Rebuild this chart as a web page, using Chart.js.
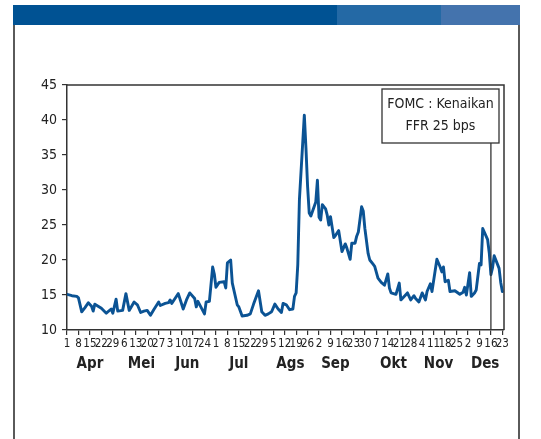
<!DOCTYPE html>
<html>
<head>
<meta charset="utf-8">
<script src="https://cdn.jsdelivr.net/npm/chart.js@4.4.1/dist/chart.umd.min.js"></script>
<style>
  html, body { margin: 0; padding: 0; background: #fff; width: 541px; height: 439px; overflow: hidden; }
  #frame { position: absolute; left: 13px; top: 25px; width: 503px; height: 420px;
           border-left: 2px solid #5a5a5a; border-right: 2px solid #5a5a5a; }
  .bar { position: absolute; top: 5px; height: 20px; }
  #b1 { left: 13px; width: 324px; background: #005293; }
  #b2 { left: 337px; width: 104px; background: #2469a5; }
  #b3 { left: 441px; width: 79px; background: #4473ad; }
  #c { position: absolute; left: 0; top: 0; }
</style>
</head>
<body>
<div id="frame"></div>
<div class="bar" id="b1"></div>
<div class="bar" id="b2"></div>
<div class="bar" id="b3"></div>
<canvas id="c" width="541" height="439"></canvas>
<script>
// Days since 1 April (2015) and index values
const days = [0,3,6,7,9,11,13,15,16,17,19,21,24,27,28,30,31,34,36,38,41,43,45,47,49,51,53,56,57,60,62,63,64,66,68,71,73,75,78,79,80,84,85,87,89,90,91,93,96,97,98,100,101,104,105,107,110,112,114,117,119,121,123,125,127,129,131,132,134,136,138,139,140,141,142,145,146,147,148,149,152,153,154,155,156,158,159,160,161,163,164,166,168,170,171,173,174,176,177,178,179,180,181,182,184,185,187,188,190,192,194,196,197,198,201,203,204,206,208,210,212,213,215,217,219,220,222,223,226,228,229,230,231,233,234,237,240,242,243,244,246,247,249,250,252,253,254,257,258,259,260,261,264,265,266];
const values = [15.1,14.9,14.8,14.6,12.6,13.2,13.9,13.4,12.7,13.7,13.4,13.1,12.4,13.0,12.4,14.4,12.7,12.8,15.2,12.8,14.0,13.6,12.5,12.7,12.8,12.1,12.9,14.0,13.5,13.8,13.9,14.3,13.8,14.5,15.2,13.0,14.3,15.3,14.5,13.3,14.1,12.3,14.0,14.1,19.0,18.0,16.1,16.8,16.9,16.0,19.6,20.0,16.7,13.6,13.3,12.0,12.1,12.3,13.7,15.6,12.6,12.1,12.3,12.6,13.7,13.0,12.5,13.8,13.6,12.9,13.0,14.8,15.3,19.3,28.6,40.7,36.0,30.5,26.7,26.3,28.3,31.4,26.1,25.7,27.9,27.3,26.4,25.0,26.2,23.2,23.5,24.2,21.2,22.3,21.7,20.1,22.4,22.4,23.4,24.0,25.8,27.6,27.0,24.5,20.9,20.0,19.4,19.1,17.4,16.8,16.4,18.0,16.0,15.3,15.1,16.7,14.3,14.8,15.3,14.3,14.9,14.5,14.0,15.3,14.3,15.5,16.6,15.5,20.1,19.0,18.3,19.0,16.9,17.1,15.5,15.6,15.1,15.4,16.1,15.0,18.2,14.8,15.3,15.7,19.5,19.3,24.5,22.9,21.0,17.9,18.9,20.6,18.8,16.8,15.5];
// Weekly tick positions (days since 1 April) and their labels
const tickDays = [0,7,14,21,28,35,42,49,56,63,70,77,84,91,98,105,112,119,126,133,140,147,154,161,168,175,182,189,196,203,210,217,224,231,238,245,252,259,266];
const tickLabels = ["1","8","15","22","29","6","13","20","27","3","10","17","24","1","8","15","22","29","5","12","19","26","2","9","16","23","30","7","14","21","28","4","11","18","25","2","9","16","23"];
const months = ["Apr","Mei","Jun","Jul","Ags","Sep","Okt","Nov","Des"];
const monthDays = [14,45.5,73.5,105,136.5,164,199.5,227,255.5];
const yTicks = [10,15,20,25,30,35,40,45];
const fomcDay = 259;
const fomcText = ["FOMC : Kenaikan", "FFR 25 bps"];

const FONT = "'Liberation Sans Narrow', 'DejaVu Sans Condensed', 'Roboto Condensed', Roboto, sans-serif";
const AX = '#333333';

const frameAndNote = {
  id: 'frameAndNote',
  afterDraw(chart) {
    const {ctx, chartArea: a, scales} = chart;
    ctx.save();
    ctx.strokeStyle = AX;
    ctx.lineWidth = 1.5;
    ctx.beginPath();
    ctx.moveTo(a.left, a.top); ctx.lineTo(a.right, a.top); ctx.lineTo(a.right, a.bottom);
    ctx.stroke();
    // annotation box
    const bx = a.left + 315, by = a.top + 4, bw = 117, bh = 54;
    ctx.lineWidth = 1.3;
    ctx.fillStyle = '#fff';
    ctx.fillRect(bx, by, bw, bh);
    ctx.strokeRect(bx, by, bw, bh);
    const fx = scales.x.getPixelForValue(fomcDay);
    ctx.beginPath();
    ctx.moveTo(fx, by + bh); ctx.lineTo(fx, a.bottom);
    ctx.stroke();
    ctx.fillStyle = '#222';
    ctx.font = "14px " + FONT;
    ctx.textAlign = 'center';
    ctx.textBaseline = 'middle';
    ctx.fillText(fomcText[0], bx + bw / 2, by + 15);
    ctx.fillText(fomcText[1], bx + bw / 2, by + 37);
    ctx.restore();
  }
};

new Chart(document.getElementById('c'), {
  type: 'line',
  data: {
    datasets: [{
      data: days.map((d, i) => ({x: d, y: values[i]})),
      borderColor: '#0b5394',
      borderWidth: 2.9,
      borderJoinStyle: 'round',
      borderCapStyle: 'round',
      pointRadius: 0,
      tension: 0,
      fill: false,
      xAxisID: 'x',
      yAxisID: 'y'
    }]
  },
  options: {
    responsive: false,
    animation: false,
    devicePixelRatio: 1,
    layout: { padding: { left: 13, top: 85, right: 37, bottom: 63 } },
    plugins: { legend: { display: false }, tooltip: { enabled: false } },
    scales: {
      x: {
        type: 'linear', position: 'bottom', min: 0, max: 267,
        afterBuildTicks: s => { s.ticks = tickDays.map(v => ({value: v})); },
        afterFit: s => { s.height = 22; },
        grid: { drawOnChartArea: false, drawTicks: true, tickLength: 5, color: AX, lineWidth: 1.2 },
        border: { display: true, color: AX, width: 1.5 },
        ticks: { autoSkip: false, maxRotation: 0, minRotation: 0, padding: 2, color: '#222',
                 font: { family: FONT, size: 11.5 },
                 callback: (v, i) => tickLabels[i] }
      },
      x2: {
        type: 'linear', position: 'bottom', min: 0, max: 267,
        afterBuildTicks: s => { s.ticks = monthDays.map(v => ({value: v})); },
        afterFit: s => { s.height = 24; },
        grid: { display: false, drawTicks: false },
        border: { display: false },
        ticks: { autoSkip: false, maxRotation: 0, minRotation: 0, padding: 3, color: '#222',
                 font: { family: FONT, size: 15, weight: 'bold' },
                 callback: (v, i) => months[i] }
      },
      y: {
        type: 'linear', min: 10, max: 45,
        afterBuildTicks: s => { s.ticks = yTicks.map(v => ({value: v})); },
        afterFit: s => { s.width = 54; },
        grid: { drawOnChartArea: false, drawTicks: true, tickLength: 5, color: AX, lineWidth: 1.2 },
        border: { display: true, color: AX, width: 1.5 },
        ticks: { padding: 5, color: '#222', font: { family: FONT, size: 14 } }
      }
    }
  },
  plugins: [frameAndNote]
});
</script>
</body>
</html>
